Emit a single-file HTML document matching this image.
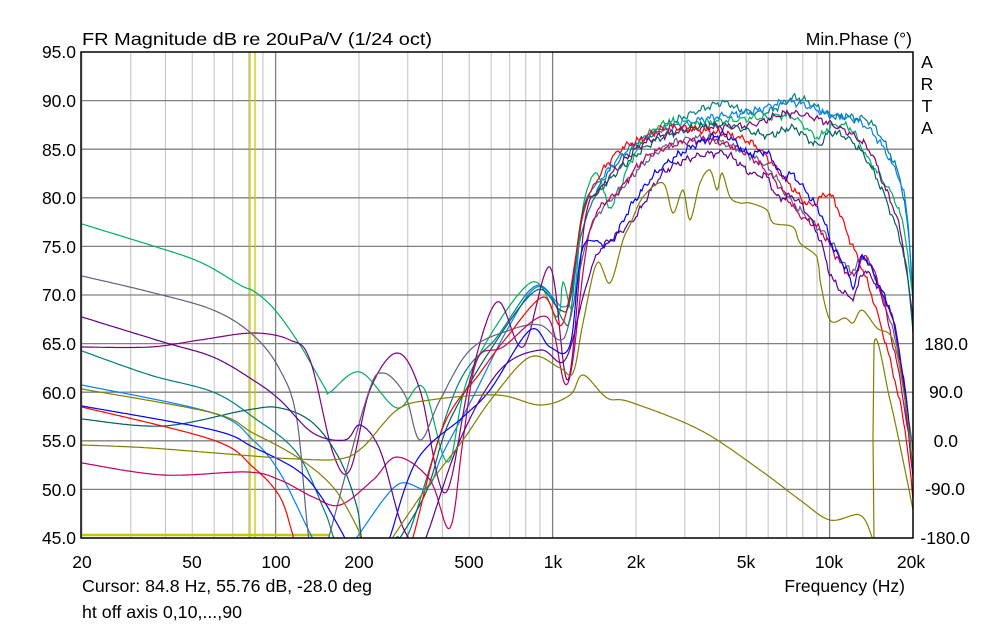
<!DOCTYPE html>
<html><head><meta charset="utf-8"><style>
body{margin:0;background:#fff;}
svg text{font-family:"Liberation Sans",Arial,sans-serif;font-size:17.5px;fill:#000;}
</style></head><body>
<svg id="s" width="994" height="626" xmlns="http://www.w3.org/2000/svg">
<defs><clipPath id="c"><rect x="82" y="52" width="831" height="486"/></clipPath></defs>
<rect width="994" height="626" fill="#fff"/>
<g id="grid"></g>
<g id="curves" clip-path="url(#c)" fill="none" stroke-width="1.2"></g>
<rect x="81" y="52" width="832" height="486" fill="none" stroke="#000" stroke-width="1.5"/>
<text x="82" y="45" textLength="350" lengthAdjust="spacingAndGlyphs">FR Magnitude dB re 20uPa/V (1/24 oct)</text>
<text x="912" y="45" text-anchor="end">Min.Phase (°)</text>
<text x="927" y="68" text-anchor="middle">A</text>
<text x="927" y="90" text-anchor="middle">R</text>
<text x="927" y="112" text-anchor="middle">T</text>
<text x="927" y="134" text-anchor="middle">A</text>
<g text-anchor="end">
<text x="76" y="58">95.0</text><text x="76" y="107">90.0</text><text x="76" y="156">85.0</text>
<text x="76" y="204">80.0</text><text x="76" y="253">75.0</text><text x="76" y="301">70.0</text>
<text x="76" y="350">65.0</text><text x="76" y="399">60.0</text><text x="76" y="447">55.0</text>
<text x="76" y="496">50.0</text><text x="76" y="544">45.0</text>
</g>
<g text-anchor="end">
<text x="968" y="350">180.0</text><text x="963" y="398">90.0</text><text x="958" y="447">0.0</text>
<text x="965" y="495">-90.0</text><text x="970" y="544">-180.0</text>
</g>
<g text-anchor="middle">
<text x="82" y="568">20</text><text x="192" y="568">50</text><text x="276" y="568">100</text>
<text x="359" y="568">200</text><text x="469" y="568">500</text><text x="553" y="568">1k</text>
<text x="636" y="568">2k</text><text x="746" y="568">5k</text><text x="829" y="568">10k</text>
<text x="911" y="568">20k</text>
</g>
<text x="905" y="592" text-anchor="end">Frequency (Hz)</text>
<text x="82" y="592" textLength="290" lengthAdjust="spacingAndGlyphs">Cursor: 84.8 Hz, 55.76 dB, -28.0 deg</text>
<text x="82" y="618" textLength="160" lengthAdjust="spacingAndGlyphs">ht off axis 0,10,...,90</text>
</svg>
<script>
var NS="http://www.w3.org/2000/svg";
function X(f){return 82+277*Math.log10(f/20);}
var g=document.getElementById('grid');
function ln(x1,y1,x2,y2,c,w){var l=document.createElementNS(NS,'line');l.setAttribute('x1',x1);l.setAttribute('y1',y1);l.setAttribute('x2',x2);l.setAttribute('y2',y2);l.setAttribute('stroke',c);l.setAttribute('stroke-width',w||1);g.appendChild(l);}
[20,30,40,50,60,70,80,90,100,200,300,400,500,600,700,800,900,1000,2000,3000,4000,5000,6000,7000,8000,9000,10000,20000].forEach(function(f){
 var maj=(f==100||f==1000||f==10000);ln(X(f),52,X(f),538,maj?'#808080':'#c0c0c0',maj?1.3:1);});
for(var i=1;i<10;i++){var y=52+i*48.6;ln(82,y,913,y,'#808080',1.3);}
ln(250,52,250,538,'#c8c800',1.3);ln(255,52,255,538,'#c8c800',1.3);
ln(82,535,330,535,'#c8c800',2.5);
var C=[
['#008080',[[82,351],[150,375],[213,392],[253,417],[297,453],[325,512],[340,545],[380,545],[397,537],[410,530],[457,387],[497,337],[530,290],[547,290],[563,320],[570,318],[580,240],[600,185],[620,160],[645,140],[667,125],[720,103],[740,110],[767,112],[793,98],[810,103],[830,115],[850,117],[870,122],[887,148],[900,180],[908,230],[913,300]],1],
['#0080ff',[[82,385],[213,413],[253,440],[280,473],[310,533],[320,548],[350,545],[357,537],[397,485],[427,488],[443,453],[473,397],[507,330],[537,287],[563,307],[573,287],[583,210],[600,180],[640,140],[700,120],[750,112],[790,102],[830,115],[850,118],[870,130],[890,160],[905,200],[913,290]],2],
['#00b060',[[82,224],[150,245],[200,262],[240,285],[255,292],[275,310],[300,345],[325,388],[330,392],[360,372],[397,408],[423,387],[448,462],[470,373],[530,283],[557,317],[563,282],[573,307],[583,207],[597,173],[610,207],[627,170],[643,140],[667,123],[700,123],[767,117],[793,117],[817,137],[830,127],[850,128],[867,157],[900,213],[913,300]],3],
['#800080',[[82,347],[150,347],[200,340],[253,333],[290,340],[310,360],[333,453],[350,470],[370,390],[397,353],[420,390],[445,493],[470,380],[497,302],[523,347],[550,267],[568,380],[585,220],[600,190],[620,165],[650,140],[700,128],[750,125],[790,113],[833,125],[867,147],[883,183],[900,230],[913,320]],4],
['#006060',[[82,419],[163,426],[247,410],[280,408],[313,423],[340,460],[357,507],[365,545],[395,545],[400,538],[427,490],[450,420],[497,340],[537,290],[560,310],[570,300],[583,210],[600,190],[630,160],[667,135],[720,125],[767,135],[793,128],[817,145],[830,133],[850,140],[870,165],[890,210],[905,260],[913,330]],5],
['#606080',[[82,276],[150,292],[213,310],[253,335],[280,370],[297,420],[310,545],[325,545],[330,533],[367,397],[383,373],[405,395],[420,440],[440,400],[470,350],[510,330],[540,325],[560,340],[570,320],[590,230],[620,190],[660,150],[700,138],[740,150],[770,170],[790,200],[810,220],[830,240],[850,270],[865,258],[880,290],[900,360],[913,450]],6],
['#ff0000',[[82,407],[213,440],[253,467],[280,497],[293,535],[300,548],[405,548],[413,537],[443,427],[480,373],[507,337],[543,297],[563,323],[583,215],[600,175],[620,150],[640,140],[667,128],[700,130],[740,138],[760,150],[790,185],[810,205],[830,195],[850,240],[870,290],[890,360],[905,430],[913,500]],7],
['#c00060',[[82,463],[163,475],[247,472],[280,480],[313,497],[340,505],[373,480],[397,457],[430,480],[450,528],[463,440],[477,360],[503,347],[547,317],[568,383],[590,230],[620,190],[650,155],[700,140],[740,150],[770,175],[800,215],[820,230],[850,275],[865,257],[880,290],[900,380],[913,470]],8],
['#0000ff',[[82,406],[213,430],[253,447],[297,470],[320,495],[345,538],[350,548],[385,548],[390,537],[417,460],[463,417],[490,390],[530,330],[550,347],[570,345],[583,247],[610,243],[633,203],[667,163],[720,135],[747,153],[767,153],[783,177],[793,175],[820,213],[833,247],[847,270],[853,287],[862,257],[873,273],[893,320],[905,390],[913,470]],9],
['#600090',[[82,317],[163,342],[213,357],[253,380],[280,400],[313,433],[345,440],[360,425],[380,450],[400,520],[415,545],[425,540],[460,440],[500,370],[540,350],[565,360],[585,290],[600,250],[633,220],[667,170],[720,153],[750,173],[767,177],[777,197],[793,197],[807,213],[820,240],[833,280],[853,297],[862,273],[873,280],[893,320],[905,400],[913,480]],10],
['#808000',[[82,389],[213,413],[253,433],[297,457],[333,487],[357,527],[365,548],[388,548],[393,537],[430,483],[463,440],[493,397],[530,357],[560,368],[573,373],[583,323],[597,263],[610,283],[623,240],[630,225],[643,197],[663,183],[673,213],[683,190],[690,220],[700,183],[710,170],[717,190],[722,173],[730,197],[740,203],[750,203],[767,210],[773,223],[793,227],[800,243],[817,257],[820,280],[830,320],[845,318],[853,323],[862,310],[877,328],[893,340],[905,400],[913,470]],0],
['#808000',[[82,445],[150,448],[253,456],[297,459],[340,459],[363,447],[397,410],[430,400],[497,395],[540,405],[570,395],[583,375],[607,398],[630,402],[700,430],[760,470],[800,500],[830,520],[860,515],[872,537]],0],
['#808000',[[874,538],[874,344],[890,400],[905,470],[913,510]],0]
];
function cr(p){var o=[];for(var i=0;i<p.length-1;i++){var p0=p[i-1]||p[i],p1=p[i],p2=p[i+1],p3=p[i+2]||p[i+1];
 var n=Math.max(2,Math.ceil((p2[0]-p1[0])/1.5));for(var k=0;k<n;k++){var t=k/n,t2=t*t,t3=t2*t;
 var x=0.5*((2*p1[0])+(-p0[0]+p2[0])*t+(2*p0[0]-5*p1[0]+4*p2[0]-p3[0])*t2+(-p0[0]+3*p1[0]-3*p2[0]+p3[0])*t3);
 var y=0.5*((2*p1[1])+(-p0[1]+p2[1])*t+(2*p0[1]-5*p1[1]+4*p2[1]-p3[1])*t2+(-p0[1]+3*p1[1]-3*p2[1]+p3[1])*t3);o.push([x,y]);}}
 o.push(p[p.length-1]);return o;}
var cg=document.getElementById('curves');
C.forEach(function(c){var pts=cr(c[1]);var s=c[2];
 var d=pts.map(function(q,i){var y=q[1];if(s&&q[0]>585){var a=Math.min(1,(q[0]-585)/20);y+=a*(2.2*Math.sin(q[0]*0.55+s*1.7)+1.5*Math.sin(q[0]*1.31+s*0.9)+1*Math.sin(q[0]*2.7+s));}
 return (i?'L':'M')+q[0].toFixed(1)+' '+y.toFixed(1);}).join('');
 var p=document.createElementNS(NS,'path');p.setAttribute('d',d);p.setAttribute('stroke',c[0]);cg.appendChild(p);});
</script>
</body></html>
